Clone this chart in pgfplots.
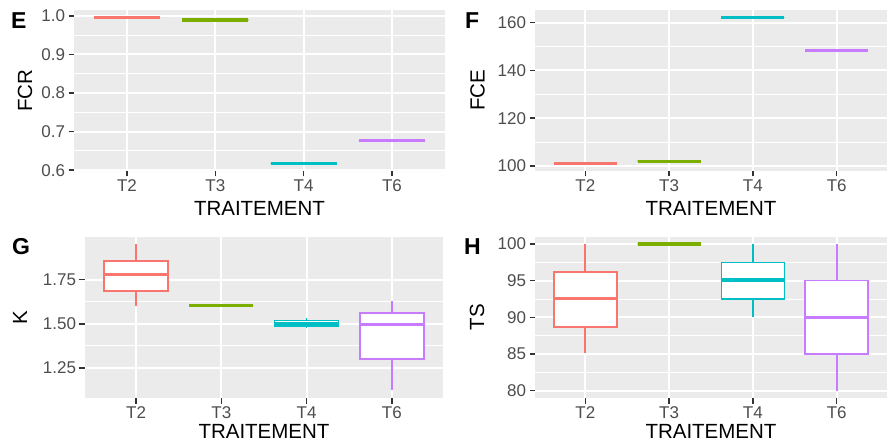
\documentclass[border=0pt]{standalone}
\usepackage{pgfplots}
\pgfplotsset{compat=1.18}
\usepgfplotslibrary{statistics}
\usepackage{fontspec}
\setmainfont{Liberation Sans}
\definecolor{ggbg}{HTML}{EBEBEB}
\definecolor{gg30}{HTML}{4D4D4D}
\definecolor{gg20}{HTML}{333333}
\definecolor{cA}{HTML}{F8766D}
\definecolor{cB}{HTML}{7CAE00}
\definecolor{cC}{HTML}{00BFC4}
\definecolor{cD}{HTML}{C77CFF}
\pgfplotsset{
 ggpanel/.style={
  scale only axis, anchor=south west,
  xmin=0.4, xmax=4.6, xtick={1,2,3,4}, xticklabels={T2,T3,T4,T6},
  axis background/.style={fill=ggbg},
  axis line style={draw=none},
  grid=both, minor y tick num=1,
  major grid style={white, line width=2pt},
  minor grid style={white, line width=1pt},
  tick align=outside, major tick length=5.5pt, minor tick length=0pt,
  tick style={draw=gg20, line width=1.5pt},
  xtick pos=lower, ytick pos=left,
  /pgf/number format/assume math mode=true,
  yticklabel={\pgfmathprintnumber{\tick}},
  ticklabel style={font=\fontsize{17}{17}\selectfont, text=gg30},
  label style={font=\fontsize{20.5}{20.5}\selectfont, text=black},
  xlabel={TRAITEMENT},
  xlabel style={at={(axis description cs:0.5,0)}, anchor=base, yshift=-45pt},
  boxplot/draw direction=y,
  boxplot/box extend=0.75, boxplot/whisker extend=0,
  boxplot/every median/.style={line width=3.2pt},
 },
 ggbox/.style={draw=#1, fill=white, line width=1.6pt, solid, boxplot/draw direction=y},
}
\begin{document}
\begin{tikzpicture}
\path[use as bounding box] (0pt,0pt) rectangle (887pt,445pt);
% ---------- E ----------
\begin{axis}[ggpanel, at={(74pt,274pt)}, width=371pt, height=161pt,
  ymin=0.598, ymax=1.015, ytick={0.6,0.7,0.8,0.9,1.0},
  y tick label style={/pgf/number format/fixed,/pgf/number format/fixed zerofill,/pgf/number format/precision=1},
  ylabel={FCR}, ylabel style={at={(axis description cs:-0.132,0.5)}, anchor=center}]
\addplot[ggbox=cA, boxplot prepared={draw position=1, lower whisker=0.996, lower quartile=0.996, median=0.996, upper quartile=0.996, upper whisker=0.996}] coordinates {};
\addplot[ggbox=cB, boxplot prepared={draw position=2, lower whisker=0.989, lower quartile=0.989, median=0.989, upper quartile=0.989, upper whisker=0.989}] coordinates {};
\addplot[ggbox=cC, boxplot prepared={draw position=3, lower whisker=0.617, lower quartile=0.617, median=0.617, upper quartile=0.617, upper whisker=0.617}] coordinates {};
\addplot[ggbox=cD, boxplot prepared={draw position=4, lower whisker=0.676, lower quartile=0.676, median=0.676, upper quartile=0.676, upper whisker=0.676}] coordinates {};
\end{axis}
% ---------- F ----------
\begin{axis}[ggpanel, at={(535pt,274pt)}, width=352pt, height=161pt,
  ymin=97.9, ymax=165.3, ytick={100,120,140,160},
  ylabel={FCE}, ylabel style={at={(axis description cs:-0.1634,0.5)}, anchor=center}]
\addplot[ggbox=cA, boxplot prepared={draw position=1, lower whisker=101.0, lower quartile=101.0, median=101.0, upper quartile=101.0, upper whisker=101.0}] coordinates {};
\addplot[ggbox=cB, boxplot prepared={draw position=2, lower whisker=102.0, lower quartile=102.0, median=102.0, upper quartile=102.0, upper whisker=102.0}] coordinates {};
\addplot[ggbox=cC, boxplot prepared={draw position=3, lower whisker=162.2, lower quartile=162.2, median=162.2, upper quartile=162.2, upper whisker=162.2}] coordinates {};
\addplot[ggbox=cD, boxplot prepared={draw position=4, lower whisker=148.4, lower quartile=148.4, median=148.4, upper quartile=148.4, upper whisker=148.4}] coordinates {};
\end{axis}
% ---------- G ----------
\begin{axis}[ggpanel, at={(85pt,47pt)}, width=358pt, height=161.3pt,
  ymin=1.0815, ymax=1.9915, ytick={1.25,1.5,1.75},
  y tick label style={/pgf/number format/fixed,/pgf/number format/fixed zerofill,/pgf/number format/precision=2},
  xlabel style={yshift=5pt},
  ylabel={K}, ylabel style={at={(axis description cs:-0.1816,0.5)}, anchor=center}]
\addplot[ggbox=cA, boxplot prepared={draw position=1, lower whisker=1.60, lower quartile=1.684, median=1.778, upper quartile=1.855, upper whisker=1.95}] coordinates {};
\addplot[ggbox=cB, boxplot prepared={draw position=2, lower whisker=1.603, lower quartile=1.603, median=1.603, upper quartile=1.603, upper whisker=1.603}] coordinates {};
\addplot[ggbox=cC, boxplot prepared={draw position=3, lower whisker=1.477, lower quartile=1.489, median=1.503, upper quartile=1.519, upper whisker=1.534}] coordinates {};
\addplot[ggbox=cD, boxplot prepared={draw position=4, lower whisker=1.125, lower quartile=1.30, median=1.494, upper quartile=1.56, upper whisker=1.626}] coordinates {};
\end{axis}
% ---------- H ----------
\begin{axis}[ggpanel, at={(535pt,47pt)}, width=352pt, height=161.3pt,
  ymin=79, ymax=101, ytick={80,85,90,95,100},
  xlabel style={yshift=5pt},
  ylabel={TS}, ylabel style={at={(axis description cs:-0.1648,0.5)}, anchor=center}]
\addplot[ggbox=cA, boxplot prepared={draw position=1, lower whisker=85.1, lower quartile=88.7, median=92.6, upper quartile=96.2, upper whisker=100}] coordinates {};
\addplot[ggbox=cB, boxplot prepared={draw position=2, lower whisker=100, lower quartile=100, median=100, upper quartile=100, upper whisker=100}] coordinates {};
\addplot[ggbox=cC, boxplot prepared={draw position=3, lower whisker=90, lower quartile=92.5, median=95.1, upper quartile=97.5, upper whisker=100}] coordinates {};
\addplot[ggbox=cD, boxplot prepared={draw position=4, lower whisker=80, lower quartile=85, median=90, upper quartile=95, upper whisker=100}] coordinates {};
\end{axis}
% ---------- panel tags ----------
\node[anchor=base west, inner sep=0pt, font=\fontsize{23}{23}\selectfont\bfseries] at (11pt,416.5pt) {E};
\node[anchor=base west, inner sep=0pt, font=\fontsize{23}{23}\selectfont\bfseries] at (465pt,416.5pt) {F};
\node[anchor=base west, inner sep=0pt, font=\fontsize{23}{23}\selectfont\bfseries] at (12pt,190pt) {G};
\node[anchor=base west, inner sep=0pt, font=\fontsize{23}{23}\selectfont\bfseries] at (464pt,190pt) {H};
\end{tikzpicture}
\end{document}
